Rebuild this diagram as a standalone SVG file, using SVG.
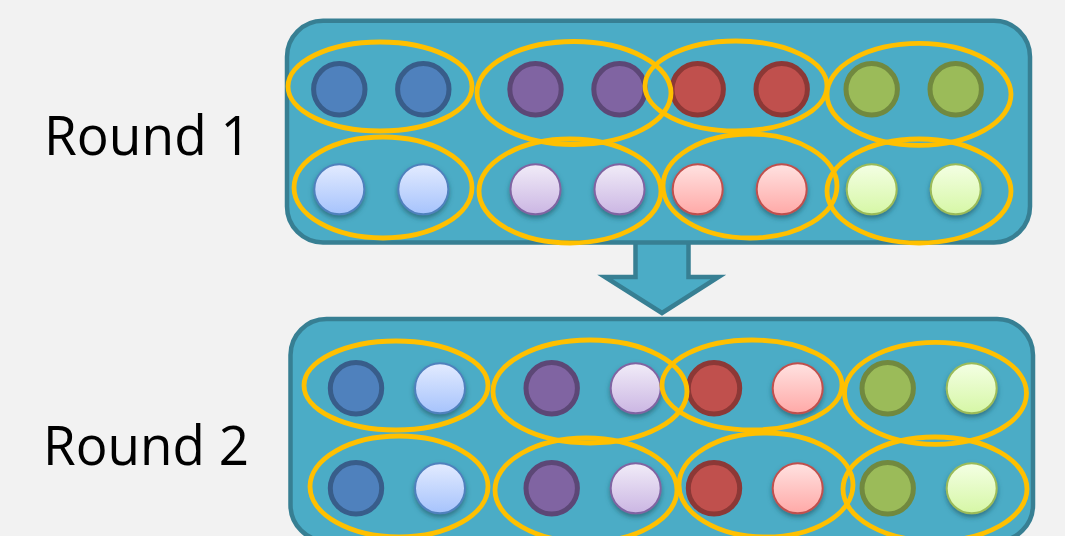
<svg xmlns="http://www.w3.org/2000/svg" width="1065" height="536" viewBox="0 0 1065 536">
  <style>
    .label { font-family: "Open Sans", "Lato", "Liberation Sans", sans-serif; font-size: 54px; fill: #000; }
    .box { fill: #4bacc6; stroke: #377f93; stroke-width: 4.5; }
    .ring { fill: none; stroke: #ffc000; stroke-width: 4.8; }
    .blue { fill: #4f81bd; stroke: #385d8a; stroke-width: 5; }
    .purple { fill: #8064a2; stroke: #5c4776; stroke-width: 5; }
    .red { fill: #c0504d; stroke: #8c3836; stroke-width: 5; }
    .green { fill: #9bbb59; stroke: #71893f; stroke-width: 5; }
    .lblue { fill: url(#gBlue); stroke: #4f81bd; stroke-width: 2; filter: url(#shadow); }
    .lpurple { fill: url(#gPurple); stroke: #8064a2; stroke-width: 2; filter: url(#shadow); }
    .lred { fill: url(#gRed); stroke: #c0504d; stroke-width: 2; filter: url(#shadow); }
    .lgreen { fill: url(#gGreen); stroke: #9bbb59; stroke-width: 2; filter: url(#shadow); }
    .arrow { fill: #4bacc6; stroke: #377f93; stroke-width: 4.5; stroke-linejoin: miter; }
  </style>
  <defs>
    <linearGradient id="gBlue" x1="0" y1="0" x2="0" y2="1">
      <stop offset="0" stop-color="#e3ebff"/>
      <stop offset="1" stop-color="#a6c3fc"/>
    </linearGradient>
    <linearGradient id="gPurple" x1="0" y1="0" x2="0" y2="1">
      <stop offset="0" stop-color="#f1ecf8"/>
      <stop offset="1" stop-color="#cbb6e3"/>
    </linearGradient>
    <linearGradient id="gRed" x1="0" y1="0" x2="0" y2="1">
      <stop offset="0" stop-color="#ffe2e1"/>
      <stop offset="1" stop-color="#ffa9a7"/>
    </linearGradient>
    <linearGradient id="gGreen" x1="0" y1="0" x2="0" y2="1">
      <stop offset="0" stop-color="#f4ffe4"/>
      <stop offset="1" stop-color="#d6f7a6"/>
    </linearGradient>
    <filter id="shadow" x="-30%" y="-30%" width="160%" height="170%">
      <feDropShadow dx="0" dy="3" stdDeviation="2.5" flood-color="#1d4f5c" flood-opacity="0.6"/>
    </filter>
  </defs>

  <rect width="1065" height="536" fill="#f2f2f2"/>

  <!-- block arrow between the two rounds -->
  <g id="connectors">
    <polygon class="arrow" points="635.5,232 688.5,232 688.5,277 718.5,277 662,313 605,277 635.5,277"/>
  </g>

  <g id="round1">
    <text class="label" x="44" y="155" textLength="207" lengthAdjust="spacingAndGlyphs">Round 1</text>
    <rect class="box" x="287" y="20.8" width="743" height="221.7" rx="36" ry="36"/>
    <!-- first row: dark tokens -->
    <circle class="blue" cx="339.3" cy="89.3" r="25.7"/>
    <circle class="blue" cx="423.3" cy="89.3" r="25.7"/>
    <circle class="purple" cx="535.5" cy="89.3" r="25.7"/>
    <circle class="purple" cx="619.5" cy="89.3" r="25.7"/>
    <circle class="red" cx="697.7" cy="89.3" r="25.7"/>
    <circle class="red" cx="781.7" cy="89.3" r="25.7"/>
    <circle class="green" cx="871.7" cy="89.3" r="25.7"/>
    <circle class="green" cx="955.7" cy="89.3" r="25.7"/>
    <!-- second row: light tokens -->
    <circle class="lblue" cx="339.3" cy="189.3" r="25"/>
    <circle class="lblue" cx="423.3" cy="189.3" r="25"/>
    <circle class="lpurple" cx="535.5" cy="189.3" r="25"/>
    <circle class="lpurple" cx="619.5" cy="189.3" r="25"/>
    <circle class="lred" cx="697.7" cy="189.3" r="25"/>
    <circle class="lred" cx="781.7" cy="189.3" r="25"/>
    <circle class="lgreen" cx="871.7" cy="189.3" r="25"/>
    <circle class="lgreen" cx="955.7" cy="189.3" r="25"/>
    <!-- pairings -->
    <ellipse class="ring" cx="380" cy="86.5" rx="92" ry="44.5"/>
    <ellipse class="ring" cx="574" cy="93" rx="97" ry="51.5"/>
    <ellipse class="ring" cx="736" cy="86" rx="91" ry="45"/>
    <ellipse class="ring" cx="919" cy="94.3" rx="92" ry="51"/>
    <ellipse class="ring" cx="383" cy="187.5" rx="89" ry="50.5"/>
    <ellipse class="ring" cx="570" cy="191" rx="91" ry="52"/>
    <ellipse class="ring" cx="750" cy="186" rx="87" ry="52"/>
    <ellipse class="ring" cx="919" cy="191" rx="92" ry="52"/>
  </g>

  <g id="round2">
    <text class="label" x="43" y="465" textLength="206" lengthAdjust="spacingAndGlyphs">Round 2</text>
    <rect class="box" x="290.5" y="319" width="742.5" height="222" rx="36" ry="36"/>
    <!-- first row -->
    <circle class="blue" cx="356" cy="388.3" r="25.7"/>
    <circle class="lblue" cx="440" cy="388.3" r="25"/>
    <circle class="purple" cx="551.7" cy="388.3" r="25.7"/>
    <circle class="lpurple" cx="635.7" cy="388.3" r="25"/>
    <circle class="red" cx="714" cy="388.3" r="25.7"/>
    <circle class="lred" cx="797.7" cy="388.3" r="25"/>
    <circle class="green" cx="887.7" cy="388.3" r="25.7"/>
    <circle class="lgreen" cx="971.7" cy="388.3" r="25"/>
    <!-- second row -->
    <circle class="blue" cx="356" cy="488.3" r="25.7"/>
    <circle class="lblue" cx="440" cy="488.3" r="25"/>
    <circle class="purple" cx="551.7" cy="488.3" r="25.7"/>
    <circle class="lpurple" cx="635.7" cy="488.3" r="25"/>
    <circle class="red" cx="714" cy="488.3" r="25.7"/>
    <circle class="lred" cx="797.7" cy="488.3" r="25"/>
    <circle class="green" cx="887.7" cy="488.3" r="25.7"/>
    <circle class="lgreen" cx="971.7" cy="488.3" r="25"/>
    <!-- pairings -->
    <ellipse class="ring" cx="396" cy="385.5" rx="92" ry="44.5"/>
    <ellipse class="ring" cx="590" cy="391.5" rx="97" ry="51.5"/>
    <ellipse class="ring" cx="752" cy="385" rx="90" ry="45"/>
    <ellipse class="ring" cx="935.5" cy="393.3" rx="91" ry="51"/>
    <ellipse class="ring" cx="399" cy="486.5" rx="89" ry="50.5"/>
    <ellipse class="ring" cx="586" cy="490" rx="91" ry="52"/>
    <ellipse class="ring" cx="766" cy="485" rx="87" ry="52"/>
    <ellipse class="ring" cx="935" cy="489" rx="92" ry="52"/>
  </g>
</svg>
